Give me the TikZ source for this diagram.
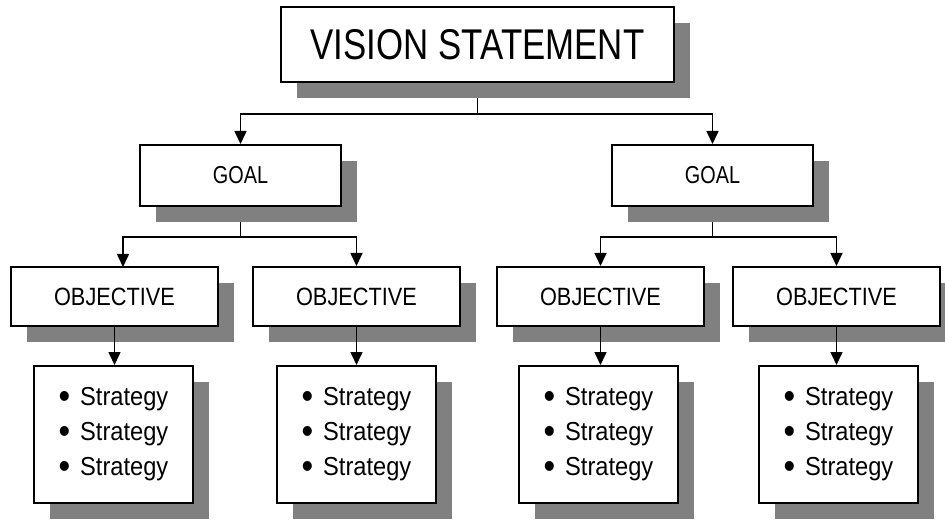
\documentclass[tikz,border=0pt]{standalone}
\usepackage{fontspec}
\usepackage{graphicx}
\setmainfont{Liberation Sans}
\newfontfamily\visfont[FakeStretch=0.81]{Liberation Sans}
\newfontfamily\goalfont[FakeStretch=0.81]{Liberation Sans}
\newfontfamily\objfont[FakeStretch=0.87]{Liberation Sans}
\newfontfamily\stratfont[FakeStretch=0.91]{Liberation Sans}
\usetikzlibrary{shadows,arrows.meta,backgrounds}
\definecolor{shadowgray}{RGB}{128,128,128}
\tikzset{
  box/.style={draw=black, line width=2pt, fill=white, inner sep=0pt,
    drop shadow={shadow xshift=16pt, shadow yshift=-16pt, fill=shadowgray, opacity=1}},
  visbox/.style={box, minimum width=393pt, minimum height=75pt,
    font=\visfont\fontsize{43}{43}\selectfont},
  goalbox/.style={box, minimum width=201pt, minimum height=61pt,
    font=\goalfont\fontsize{24.5}{24.5}\selectfont},
  objbox/.style={box, minimum width=207pt, minimum height=59pt,
    font=\objfont\fontsize{25}{25}\selectfont},
  stratbox/.style={box, minimum width=159pt, minimum height=137pt, align=left,
    font=\stratfont\fontsize{26}{35}\selectfont},
  conn/.style={line width=1.6pt},
  arr/.style={line width=1.6pt, -{Triangle[width=12pt,length=13pt]}},
}
\newcommand{\stratitem}{\makebox[21.5pt][l]{\raisebox{-2.7pt}{\scalebox{1.4}{\textbullet}}}Strategy}
\begin{document}
\begin{tikzpicture}[x=1pt,y=-1pt]
\useasboundingbox (0,0) rectangle (945,521);

\node[visbox] (V) at (477.5,44.5) {VISION STATEMENT};

\node[goalbox] (G1) at (240.5,175.5) {GOAL};
\node[goalbox] (G2) at (712.5,175.5) {GOAL};

\node[objbox] (O1) at (114.5,296.5) {OBJECTIVE};
\node[objbox] (O2) at (356.5,296.5) {OBJECTIVE};
\node[objbox] (O3) at (600.5,296.5) {OBJECTIVE};
\node[objbox] (O4) at (836.5,296.5) {OBJECTIVE};

\node[stratbox] (S1) at (113.5,434.5) {\stratitem\\\stratitem\\\stratitem};
\node[stratbox] (S2) at (356.5,434.5) {\stratitem\\\stratitem\\\stratitem};
\node[stratbox] (S3) at (598.5,434.5) {\stratitem\\\stratitem\\\stratitem};
\node[stratbox] (S4) at (838.5,434.5) {\stratitem\\\stratitem\\\stratitem};

\coordinate (o1in) at (123,267);

\begin{scope}[on background layer]
  \draw[conn] (V.south) -- ++(0,31) coordinate (jv);
  \draw[arr] (jv) -| (G1.north);
  \draw[arr] (jv) -| (G2.north);
  \draw[conn] (G1.south) -- ++(0,30) coordinate (jg1);
  \draw[arr] (jg1) -| (o1in);
  \draw[arr] (jg1) -| (O2.north);
  \draw[conn] (G2.south) -- ++(0,30) coordinate (jg2);
  \draw[arr] (jg2) -| (O3.north);
  \draw[arr] (jg2) -| (O4.north);
\end{scope}

\draw[arr] (O1.south) -- (O1.south |- S1.north);
\draw[arr] (O2.south) -- (O2.south |- S2.north);
\draw[arr] (O3.south) -- (O3.south |- S3.north);
\draw[arr] (O4.south) -- (O4.south |- S4.north);
\end{tikzpicture}
\end{document}
